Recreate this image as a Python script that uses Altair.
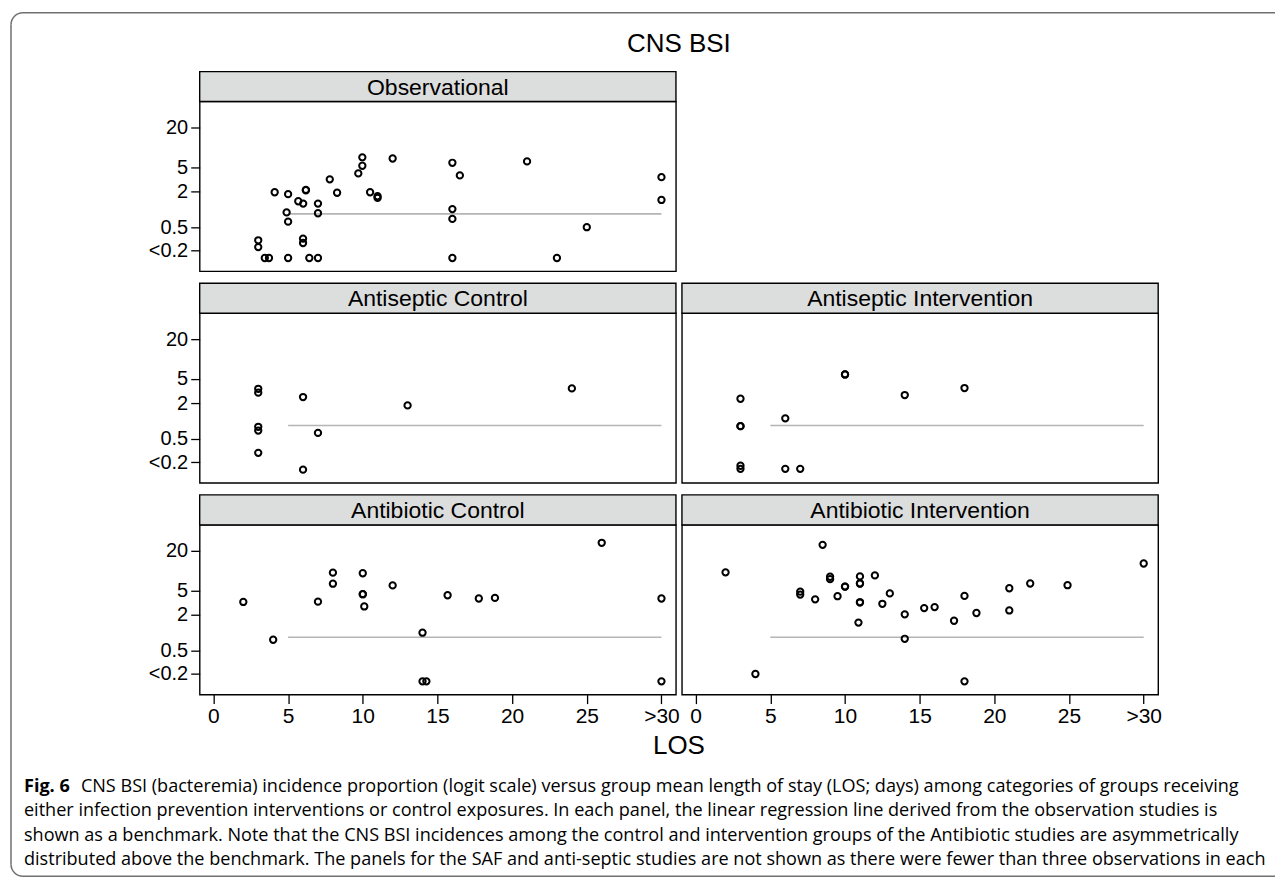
import math
import altair as alt
import pandas as pd

# ---------------- data ----------------
obs_los = [3, 3, 3.44, 3.72, 4.1, 5, 4.9, 5, 5, 5.68, 6.01, 6.19, 6.19, 6, 6, 6.42, 7, 7, 7,
           7.79, 8.28, 9.7, 9.97, 9.97, 10.49, 10.99, 10.99, 12, 16, 16.5, 16, 16, 16, 21, 23, 25, 30, 30]
obs_pct = [0.30, 0.23, 0.15, 0.15, 1.94, 1.8, 0.89, 0.62, 0.15, 1.37, 1.25, 2.09, 2.12, 0.32, 0.27, 0.15,
           1.25, 0.86, 0.15, 3.17, 1.9, 3.97, 5.28, 7.2, 1.94, 1.66, 1.56, 6.9, 5.9, 3.68, 1.01, 0.69,
           0.15, 6.2, 0.15, 0.5, 3.45, 1.44]

asc_los = [3, 3, 3, 3, 3, 6, 6, 7, 13, 24]
asc_pct = [3.45, 2.98, 0.80, 0.69, 0.29, 2.52, 0.15, 0.63, 1.83, 3.5]

asi_los = [3, 3, 3, 3, 3, 6, 6, 7, 10, 10, 14, 18]
asi_pct = [2.36, 0.82, 0.82, 0.175, 0.155, 1.11, 0.155, 0.155, 5.9, 5.9, 2.72, 3.55]

abc_los = [2, 4, 7, 8, 8, 10, 10, 10, 10.1, 12, 14, 14, 14.26, 15.68, 17.77, 18.85, 26, 30, 30]
abc_pct = [3.26, 0.76, 3.3, 9.6, 6.45, 9.4, 4.37, 4.37, 2.75, 6.05, 1.0, 0.15, 0.15, 4.2, 3.72, 3.8,
           25.5, 3.72, 0.15]

abi_los = [2, 4, 7, 7, 8, 8.5, 9, 9, 9.5, 10, 10, 11, 11, 11, 11, 11, 10.9, 12, 12.5, 13, 14, 14,
           15.3, 16, 17.3, 18, 18, 18.8, 21, 21, 22.4, 24.9, 30]
abi_pct = [9.7, 0.20, 4.8, 4.3, 3.6, 24, 8.3, 7.6, 4.05, 5.8, 5.8, 8.4, 6.5, 6.5, 3.22, 3.22, 1.48,
           8.7, 3.04, 4.5, 2.03, 0.79, 2.58, 2.68, 1.59, 4.1, 0.15, 2.14, 5.45, 2.36, 6.5, 6.1, 13.2]

bench_los = [5, 30]
bench_pct = [0.84, 0.84]

x_tick_values = [0, 5, 10, 15, 20, 25, 30]
x_tick_labels = ["0", "5", "10", "15", "20", "25", ">30"]
y_tick_pct = [0.2, 0.5, 2, 5, 20]
y_tick_labels = ["<0.2", "0.5", "2", "5", "20"]

panel_names = ["Observational", "Antiseptic Control", "Antiseptic Intervention",
               "Antibiotic Control", "Antibiotic Intervention"]
main_title = "CNS BSI"
x_title = "LOS"
caption_bold = "Fig. 6"
caption_lines = [
    "CNS BSI (bacteremia) incidence proportion (logit scale) versus group mean length of stay (LOS; days) among categories of groups receiving",
    "either infection prevention interventions or control exposures. In each panel, the linear regression line derived from the observation studies is",
    "shown as a benchmark. Note that the CNS BSI incidences among the control and intervention groups of the Antibiotic studies are asymmetrically",
    "distributed above the benchmark. The panels for the SAF and anti-septic studies are not shown as there were fewer than three observations in each",
]

# ---------------- styling / layout ----------------
FONT = "Liberation Sans"
CAP_FONT = "Open Sans"
CAP_SIZE = 18.1
W, H, SH = 477, 170, 30
X_DOMAIN = [-0.92, 30.97]
Y_DOMAIN = [-7.02, -0.37]
LG = "log((datum.pct/100)/(1-datum.pct/100))"
FRAME = "#707070"


def logit(p):
    q = p / 100.0
    return math.log(q / (1 - q))


y_tick_vals = [logit(p) for p in y_tick_pct]

x_expr = "''"
for v, l in reversed(list(zip(x_tick_values, x_tick_labels))):
    x_expr = f"datum.value == {v} ? '{l}' : " + x_expr
y_expr = "''"
for v, l in reversed(list(zip(y_tick_vals, y_tick_labels))):
    y_expr = f"abs(datum.value - ({v:.5f})) < 0.01 ? '{l}' : " + y_expr

x_axis = alt.Axis(values=x_tick_values, labelExpr=x_expr, title=None, domain=False, grid=False,
                  tickSize=9, tickColor="black", tickWidth=1.3, labelFont=FONT, labelFontSize=21,
                  labelColor="black", labelPadding=2, labelFlush=False, labelOverlap=False)
y_axis = alt.Axis(values=y_tick_vals, labelExpr=y_expr, title=None, domain=False, grid=False,
                  tickSize=9, tickColor="black", tickWidth=1.3, labelFont=FONT, labelFontSize=20,
                  labelColor="black", labelPadding=3, labelFlush=False, labelOverlap=False)


def panel(name, los, pct, show_x, show_y, extra=None):
    df = pd.DataFrame({"los": los, "pct": pct})
    bdf = pd.DataFrame({"los": bench_los, "pct": bench_pct})
    xe = alt.X("los:Q", scale=alt.Scale(domain=X_DOMAIN, nice=False, zero=False),
               axis=x_axis if show_x else None)
    ye = alt.Y("lg:Q", scale=alt.Scale(domain=Y_DOMAIN, nice=False, zero=False),
               axis=y_axis if show_y else None)
    lab = pd.DataFrame({"label": [name]})
    strip_bg = alt.Chart(lab).mark_rect(fill="#dcdddd", stroke="black", strokeWidth=1.4).encode(
        x=alt.value(0), x2=alt.value(W), y=alt.value(-SH), y2=alt.value(0))
    strip_txt = alt.Chart(lab).mark_text(font=FONT, fontSize=23, color="black", baseline="middle",
                                         align="center").encode(
        x=alt.value(W / 2), y=alt.value(-SH / 2 + 1), text="label:N")
    bench = alt.Chart(bdf).transform_calculate(lg=LG).mark_line(
        color="#b5b5b5", strokeWidth=1.6).encode(x=xe, y=ye)
    pts = alt.Chart(df).transform_calculate(lg=LG).mark_point(
        shape="circle", filled=False, stroke="black", strokeWidth=2, size=40, opacity=1).encode(
        x=xe, y=ye)
    layers = [strip_bg, strip_txt, bench, pts] + (extra or [])
    return alt.layer(*layers).properties(
        width=W, height=H,
        view=alt.ViewBackground(fill="white", stroke="black", strokeWidth=1.4))


# ---- decorations relative to the top-left panel origin (page 199, 100) ----
OX, OY1 = 199, 100
one = pd.DataFrame({"a": [0]})
title_layer = alt.Chart(pd.DataFrame({"t": [main_title]})).mark_text(
    font=FONT, fontSize=26, color="black", baseline="middle", align="center").encode(
    x=alt.value(480), y=alt.value(42 - OY1), text="t:N")

FL, FT, FR, FB, R = 10, 11, 1276, 876, 12
frame_layers = [
    alt.Chart(one).mark_rule(color=FRAME, strokeWidth=1.5).encode(
        x=alt.value(FL + R - OX), x2=alt.value(FR - OX), y=alt.value(FT - OY1)),
    alt.Chart(one).mark_rule(color=FRAME, strokeWidth=1.5).encode(
        x=alt.value(FL + R - OX), x2=alt.value(FR - OX), y=alt.value(FB - OY1)),
    alt.Chart(one).mark_rule(color=FRAME, strokeWidth=1.5).encode(
        x=alt.value(FL - OX), y=alt.value(FT + R - OY1), y2=alt.value(FB - R - OY1)),
    alt.Chart(one).mark_arc(color=FRAME).encode(
        x=alt.value(FL + R - OX), y=alt.value(FT + R - OY1),
        theta=alt.value(3 * math.pi / 2), theta2=alt.value(2 * math.pi),
        radius=alt.value(R + 0.75), radius2=alt.value(R - 0.75)),
    alt.Chart(one).mark_arc(color=FRAME).encode(
        x=alt.value(FL + R - OX), y=alt.value(FB - R - OY1),
        theta=alt.value(math.pi), theta2=alt.value(3 * math.pi / 2),
        radius=alt.value(R + 0.75), radius2=alt.value(R - 0.75)),
]

# ---- caption + LOS relative to the bottom-left panel origin (page 199, 524) ----
OY3 = 524
cap_layers = [alt.Chart(pd.DataFrame({"t": [x_title]})).mark_text(
    font=FONT, fontSize=26, color="black", baseline="middle", align="center").encode(
    x=alt.value(480), y=alt.value(745 - OY3), text="t:N")]
line_y = [787, 811, 836, 860]
CAP_X = 23
cap_layers.append(alt.Chart(pd.DataFrame({"t": [caption_bold]})).mark_text(
    font=CAP_FONT, fontSize=CAP_SIZE, fontWeight="bold", color="black", baseline="middle",
    align="left").encode(x=alt.value(CAP_X - OX), y=alt.value(line_y[0] - OY3), text="t:N"))
for i, txt in enumerate(caption_lines):
    x0 = (CAP_X + 57 if i == 0 else CAP_X) - OX
    cap_layers.append(alt.Chart(pd.DataFrame({"t": [txt]})).mark_text(
        font=CAP_FONT, fontSize=CAP_SIZE, color="black", baseline="middle", align="left").encode(
        x=alt.value(x0), y=alt.value(line_y[i] - OY3), text="t:N"))

obs = panel(panel_names[0], obs_los, obs_pct, False, True, [title_layer] + frame_layers)
empty = alt.Chart(one).mark_point(opacity=0).encode(
    x=alt.value(0), y=alt.value(0)).properties(
    width=W, height=H, view=alt.ViewBackground(fill="transparent", stroke="transparent"))
asc = panel(panel_names[1], asc_los, asc_pct, False, True)
asi = panel(panel_names[2], asi_los, asi_pct, False, False)
abc = panel(panel_names[3], abc_los, abc_pct, True, True, cap_layers)
abi = panel(panel_names[4], abi_los, abi_pct, True, False)

chart = alt.concat(obs, empty, asc, asi, abc, abi, columns=2, bounds="flush",
                   spacing={"row": 42, "column": 6}).properties(
    padding={"left": 1, "top": 2, "right": 0, "bottom": 0},
    background="white",
)

chart.save("out.html", embed_options={"renderer": "svg", "actions": False})
